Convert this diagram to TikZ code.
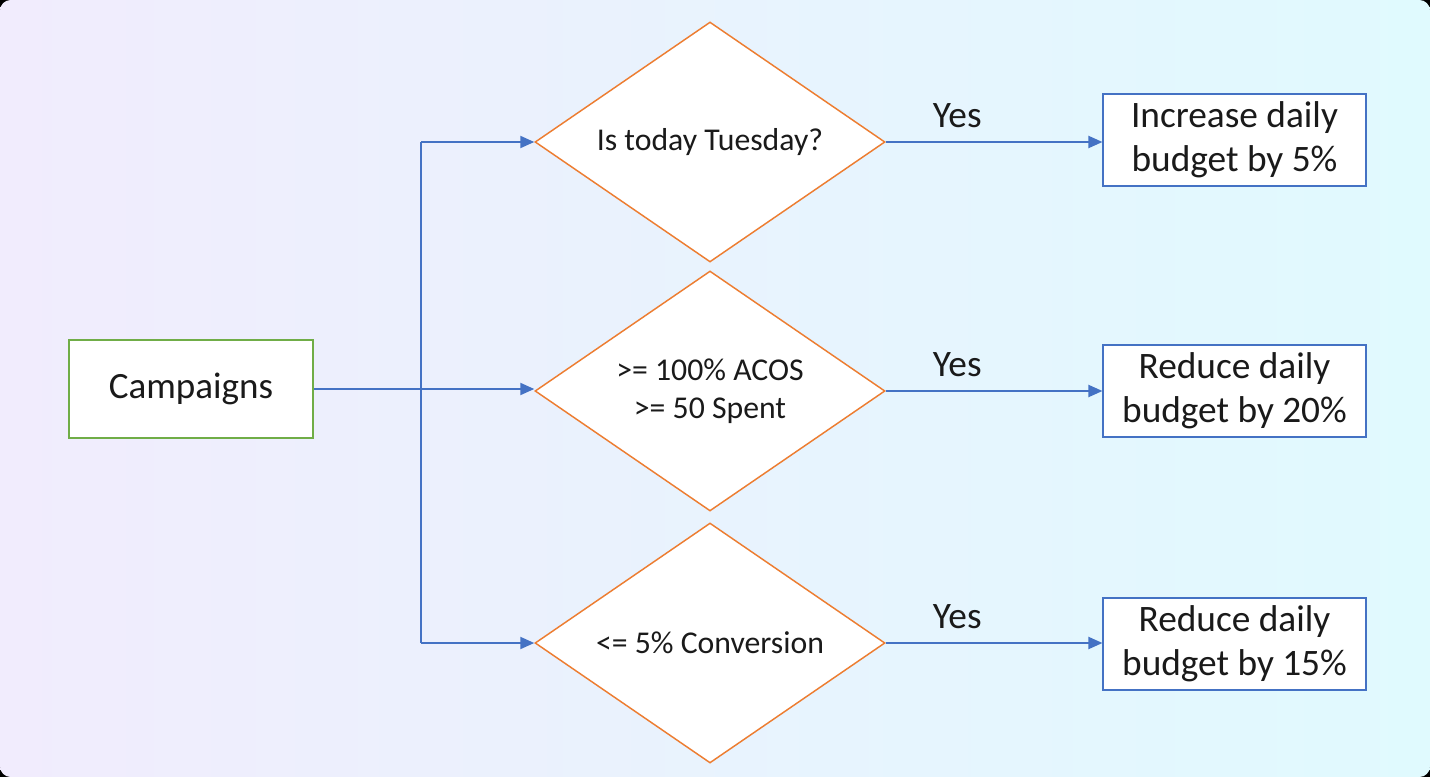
\documentclass[tikz,border=0pt]{standalone}
\usepackage{fontspec}
\setmainfont{Carlito}
\usetikzlibrary{shapes.geometric,arrows.meta}
\definecolor{bgL}{RGB}{241,236,253}
\definecolor{bgR}{RGB}{224,250,254}
\definecolor{orng}{RGB}{237,125,49}
\definecolor{blu}{RGB}{68,114,196}
\definecolor{grn}{RGB}{112,173,71}
\definecolor{ink}{RGB}{26,26,26}
\begin{document}
\begin{tikzpicture}[x=0.75pt,y=-0.75pt,
  startbox/.style={draw=grn,line width=1.2pt,fill=white,minimum width=183pt,minimum height=73.5pt,inner sep=0pt,text=ink,font=\fontsize{27.8}{35}\selectfont},
  decbox/.style={shape=diamond,shape aspect=1.46,draw=orng,line width=1.1pt,fill=white,minimum width=262.5pt,minimum height=180pt,inner sep=0pt,align=center,text=ink,font=\fontsize{23.8}{28.5}\selectfont},
  actbox/.style={draw=blu,line width=1.1pt,fill=white,minimum width=197pt,minimum height=69pt,inner sep=0pt,align=center,text=ink,font=\fontsize{28}{33}\selectfont},
  wire/.style={draw=blu,line width=1.5pt},
  conn/.style={wire,-{Triangle[length=10.5pt,width=9pt]}},
  yeslbl/.style={pos=0.33,yshift=20pt,text=ink,font=\fontsize{28}{32}\selectfont,inner sep=0pt}
]
\fill[black] (0,0) rectangle (1430,777);
\shade[left color=bgL,right color=bgR,rounded corners=8pt] (0,0) rectangle (1430,777);
\useasboundingbox (0,0) rectangle (1430,777);

\node[startbox] (camp) at (191,389) {Campaigns};

\node[decbox] (d1) at (710,142) {Is today Tuesday?};
\node[decbox] (d2) at (710,391) {>= 100\% ACOS\\>= 50 Spent};
\node[decbox] (d3) at (710,643) {<= 5\% Conversion};

\node[actbox] (r1) at (1234.5,140) {Increase daily\\budget by 5\%};
\node[actbox] (r2) at (1234.5,391) {Reduce daily\\budget by 20\%};
\node[actbox] (r3) at (1234.5,644) {Reduce daily\\budget by 15\%};

\coordinate (jt) at (421,142);
\coordinate (jb) at (421,643);

\draw[conn] (camp.east) -- (camp.east -| d2.west);
\draw[wire] (jt) -- (jb);
\draw[conn] (jt) -- (d1.west);
\draw[conn] (jb) -- (d3.west);

\draw[conn] (d1.east) -- node[yeslbl] (y1) {Yes} (d1.east -| r1.west);
\draw[conn] (d2.east) -- node[yeslbl] (y2) {Yes} (d2.east -| r2.west);
\draw[conn] (d3.east) -- node[yeslbl] (y3) {Yes} (d3.east -| r3.west);
\end{tikzpicture}
\end{document}
